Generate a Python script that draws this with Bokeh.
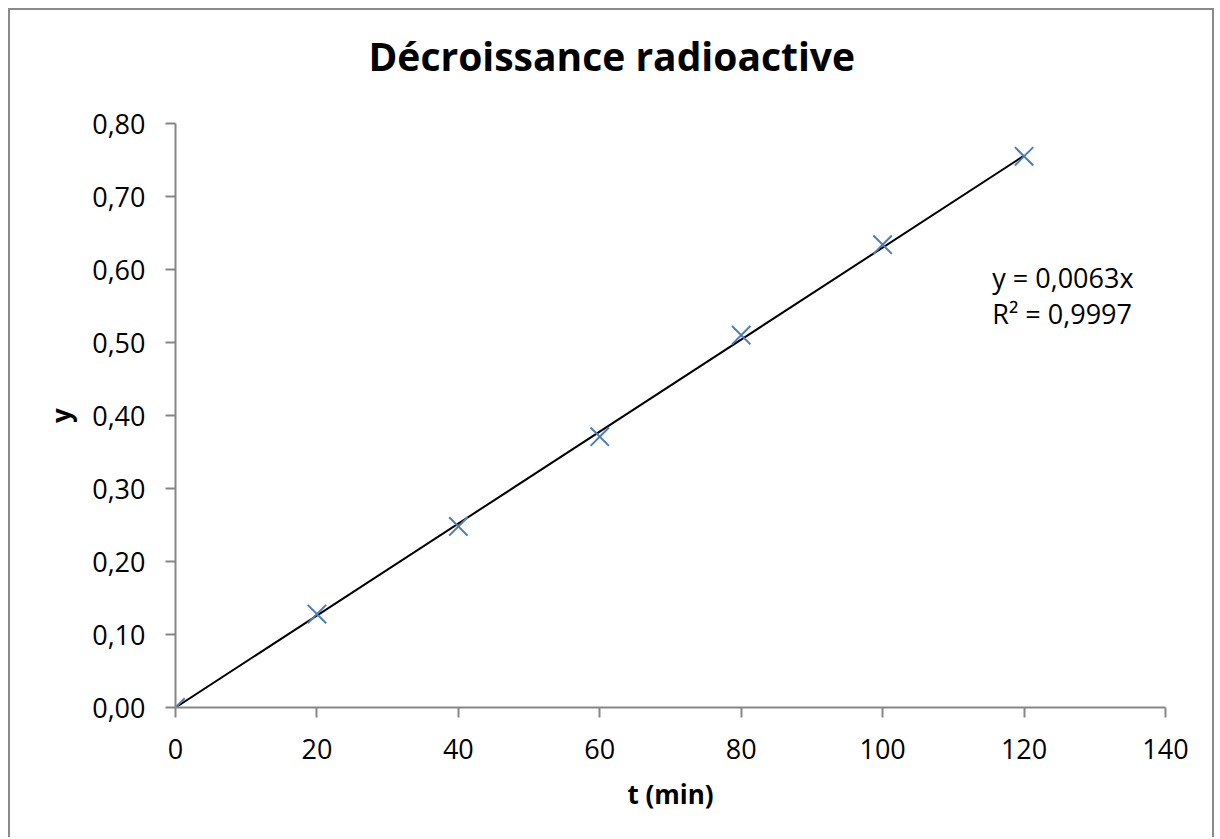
from bokeh.plotting import figure
from bokeh.models import Range1d, Label, FixedTicker, CustomJSTickFormatter, Title
from bokeh.embed import file_html
from bokeh.resources import INLINE

# Data
t_min = [0, 20, 40, 60, 80, 100, 120]
y_vals = [0.0, 0.128, 0.248, 0.371, 0.510, 0.634, 0.755]
trend_slope = 0.0063
trend_r2 = 0.9997
trend_x = [0, 120]
x_ticks = [0, 20, 40, 60, 80, 100, 120, 140]
y_ticks = [0.0, 0.1, 0.2, 0.3, 0.4, 0.5, 0.6, 0.7, 0.8]

FONT = "Open Sans"
AXIS_GREY = "#868686"

p = figure(width=1206, height=829, output_backend="svg", toolbar_location=None,
           x_range=Range1d(0, 140), y_range=Range1d(0, 0.8),
           min_border_left=165, min_border_right=51, min_border_top=113,
           min_border_bottom=132)
p.styles = {"margin": "8px 0 0 8px",
            "border-left": "2px solid #8a8a8a", "border-top": "2px solid #8a8a8a",
            "border-right": "2px solid #8a8a8a"}
p.outline_line_color = None
p.grid.visible = False
p.background_fill_color = "white"
p.border_fill_color = "white"

# spacer between the frame and the title
p.add_layout(Title(text=" ", text_font_size="1px", standoff=39), "above")

p.title.text = "Décroissance radioactive"
p.title.align = "left"
p.title.vertical_align = "bottom"
p.title.text_font = FONT
p.title.text_font_size = "39px"
p.title.text_font_style = "bold"
p.title.text_color = "black"
p.title.offset = 193
p.title.standoff = 0

for ax in (p.xaxis[0], p.yaxis[0]):
    ax.axis_line_color = AXIS_GREY
    ax.axis_line_width = 2
    ax.major_tick_line_color = AXIS_GREY
    ax.major_tick_line_width = 2
    ax.major_tick_out = 10
    ax.major_tick_in = 0
    ax.minor_tick_line_color = None
    ax.major_label_text_font = FONT
    ax.major_label_text_font_size = "27px"
    ax.major_label_text_color = "black"
    ax.axis_label_text_font = FONT
    ax.axis_label_text_font_size = "26px"
    ax.axis_label_text_font_style = "bold"
    ax.axis_label_text_color = "black"

p.xaxis.ticker = FixedTicker(ticks=x_ticks)
p.yaxis.ticker = FixedTicker(ticks=y_ticks)
p.yaxis.formatter = CustomJSTickFormatter(code="return tick.toFixed(2).replace('.', ',');")
p.xaxis.axis_label = "t (min)"
p.yaxis.axis_label = "y"
p.xaxis.major_label_standoff = 21
p.yaxis.major_label_standoff = 20
p.xaxis.axis_label_standoff = 14
p.yaxis.axis_label_standoff = 10

# Trendline
trend_y = [trend_slope * x for x in trend_x]
p.line(trend_x, trend_y, line_color="black", line_width=2)

# Data points
p.scatter(t_min, y_vals, marker="x", size=26, line_color="#4A7EBB", line_width=2)

# Trendline equation
eq1 = "y = " + ("%.4f" % trend_slope).replace(".", ",") + "x"
eq2 = "R² = " + ("%.4f" % trend_r2).replace(".", ",")
p.add_layout(Label(x=115.5, y=0.589, text=eq1, text_font=FONT, text_font_size="27px",
                   text_align="left", text_baseline="middle", text_color="black"))
p.add_layout(Label(x=115.5, y=0.540, text=eq2, text_font=FONT, text_font_size="27px",
                   text_align="left", text_baseline="middle", text_color="black"))

open("out.html", "w").write(file_html(p, INLINE))
